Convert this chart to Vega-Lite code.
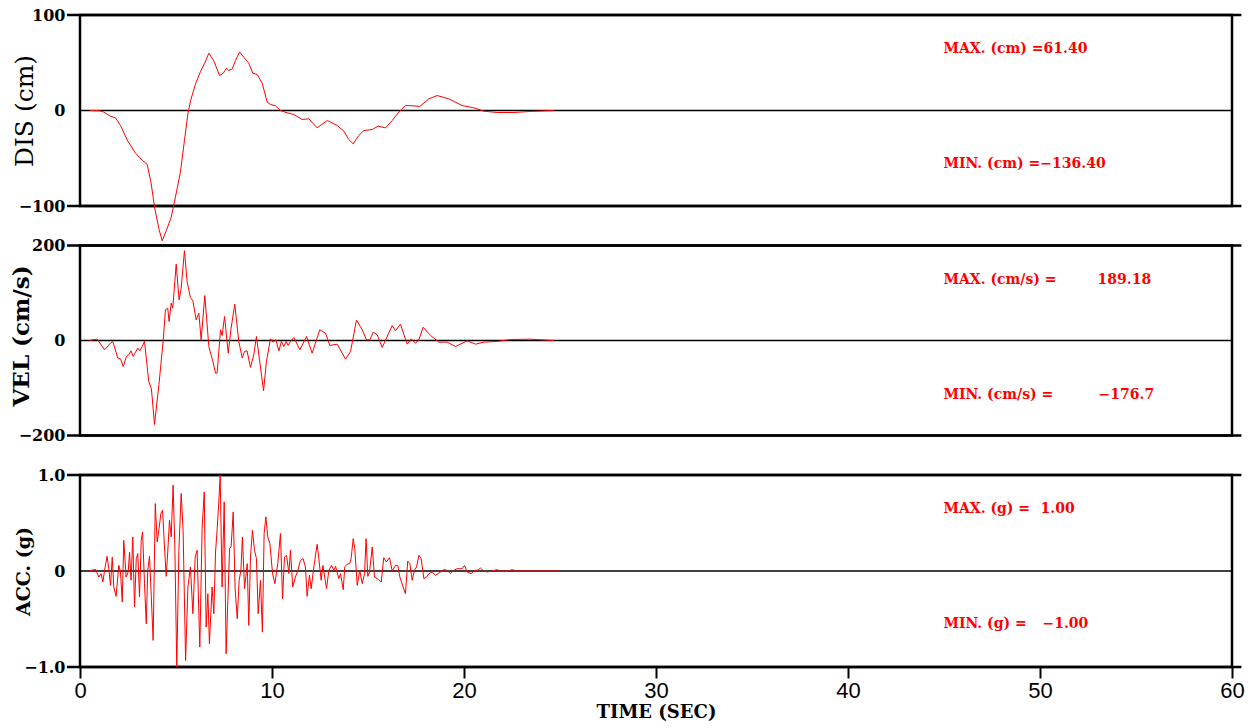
{
  "$schema": "https://vega.github.io/schema/vega-lite/v6.json",
  "background": "white",
  "padding": {"left": 8, "top": 5, "right": 5, "bottom": 5},
  "spacing": 39.5,
  "bounds": "flush",
  "config": {
    "view": {"stroke": "black", "strokeWidth": 2.5},
    "axis": {"grid": false, "domain": false, "labelColor": "black", "titleColor": "black", "tickColor": "black"},
    "text": {"font": "DejaVu Serif", "fontWeight": "bold", "fontSize": 14, "color": "#ff0000", "align": "left", "baseline": "middle"}
  },
  "datasets": {
    "dis": [
      {"t":0.5,"v":0},{"t":0.98,"v":0},{"t":1.24,"v":-1.7},{"t":1.59,"v":-6},{"t":1.85,"v":-7.7},{"t":2.11,"v":-15.7},{"t":2.46,"v":-31},{"t":2.89,"v":-44.7},{"t":3.24,"v":-52},{"t":3.5,"v":-56.5},{"t":3.71,"v":-76.8},{"t":3.88,"v":-101},{"t":4.11,"v":-124},{"t":4.28,"v":-136.4},{"t":4.5,"v":-125.6},{"t":4.75,"v":-111.7},{"t":4.97,"v":-90.8},{"t":5.23,"v":-64.6},{"t":5.44,"v":-31.4},{"t":5.62,"v":-3.5},{"t":5.76,"v":10.5},{"t":6.02,"v":28},{"t":6.28,"v":41},{"t":6.48,"v":49},{"t":6.71,"v":60},{"t":6.97,"v":52},{"t":7.27,"v":36.6},{"t":7.46,"v":39},{"t":7.63,"v":44.3},{"t":7.75,"v":41.9},{"t":7.93,"v":43.6},{"t":8.1,"v":52.4},{"t":8.31,"v":61.4},{"t":8.53,"v":55.8},{"t":8.79,"v":49.6},{"t":9.0,"v":39},{"t":9.23,"v":37.7},{"t":9.49,"v":28.6},{"t":9.75,"v":8.7},{"t":9.92,"v":6.3},{"t":10.18,"v":4.9},{"t":10.44,"v":0},{"t":10.79,"v":-2.4},{"t":11.14,"v":-4.2},{"t":11.57,"v":-9.4},{"t":11.92,"v":-8.7},{"t":12.35,"v":-18.2},{"t":12.88,"v":-10.5},{"t":13.4,"v":-15.7},{"t":13.74,"v":-21.6},{"t":14.0,"v":-30.4},{"t":14.23,"v":-34.9},{"t":14.52,"v":-26.2},{"t":14.78,"v":-21},{"t":15.22,"v":-19.9},{"t":15.53,"v":-16.4},{"t":15.91,"v":-18.2},{"t":16.26,"v":-10.5},{"t":16.6,"v":-1.7},{"t":16.95,"v":5.2},{"t":17.39,"v":4.9},{"t":17.7,"v":4.2},{"t":18.17,"v":12.2},{"t":18.6,"v":15.7},{"t":19.21,"v":12.2},{"t":19.9,"v":5.2},{"t":20.51,"v":2.8},{"t":21.03,"v":-0.7},{"t":21.73,"v":-2.1},{"t":22.6,"v":-2.1},{"t":23.46,"v":-1},{"t":24.68,"v":0}
    ],
    "vel": [
      {"t":0.46,"v":0},{"t":0.89,"v":2.8},{"t":1.28,"v":-19.6},{"t":1.59,"v":-5.6},{"t":1.71,"v":-2},{"t":1.97,"v":-37},{"t":2.11,"v":-38.6},{"t":2.25,"v":-54.7},{"t":2.42,"v":-33.7},{"t":2.54,"v":-30},{"t":2.66,"v":-21.8},{"t":2.77,"v":-33.7},{"t":2.89,"v":-24.6},{"t":3.01,"v":-16},{"t":3.12,"v":-21.8},{"t":3.24,"v":-12.6},{"t":3.36,"v":-2},{"t":3.58,"v":-86},{"t":3.72,"v":-101.8},{"t":3.88,"v":-176.7},{"t":4.11,"v":-93},{"t":4.33,"v":-2},{"t":4.45,"v":64.6},{"t":4.57,"v":68},{"t":4.64,"v":40},{"t":4.75,"v":78.6},{"t":4.83,"v":68},{"t":5.01,"v":160.7},{"t":5.16,"v":85.6},{"t":5.27,"v":110},{"t":5.44,"v":189.18},{"t":5.58,"v":124},{"t":5.75,"v":90.5},{"t":5.88,"v":83.5},{"t":6.05,"v":43.5},{"t":6.19,"v":57.5},{"t":6.31,"v":1.4},{"t":6.5,"v":94.7},{"t":6.71,"v":-12.6},{"t":6.92,"v":-44},{"t":7.06,"v":-68.8},{"t":7.14,"v":-68.8},{"t":7.32,"v":22.5},{"t":7.4,"v":10.5},{"t":7.53,"v":50.5},{"t":7.72,"v":-26.7},{"t":7.87,"v":26},{"t":8.06,"v":76.5},{"t":8.27,"v":-2},{"t":8.45,"v":-37},{"t":8.57,"v":-23},{"t":8.7,"v":-21.8},{"t":8.88,"v":-56.8},{"t":9.05,"v":-30},{"t":9.19,"v":8.4},{"t":9.56,"v":-106},{"t":9.71,"v":-44},{"t":9.92,"v":3.5},{"t":10.06,"v":-3.5},{"t":10.2,"v":1.4},{"t":10.36,"v":-21.8},{"t":10.49,"v":-2},{"t":10.62,"v":-12.6},{"t":10.74,"v":-2},{"t":10.84,"v":-10.5},{"t":10.96,"v":-2},{"t":11.14,"v":6.3},{"t":11.45,"v":-19.6},{"t":11.8,"v":8.4},{"t":12.09,"v":-26.7},{"t":12.49,"v":22.5},{"t":12.79,"v":15.4},{"t":13.01,"v":-10.5},{"t":13.4,"v":-7.7},{"t":13.83,"v":-39.3},{"t":14.09,"v":-23},{"t":14.4,"v":42.8},{"t":14.7,"v":22.5},{"t":14.92,"v":1.4},{"t":15.1,"v":1.4},{"t":15.27,"v":17.5},{"t":15.48,"v":12},{"t":15.74,"v":-14.7},{"t":16.26,"v":31.6},{"t":16.43,"v":20.4},{"t":16.69,"v":34.4},{"t":17.04,"v":-7.7},{"t":17.25,"v":3.5},{"t":17.47,"v":-5.6},{"t":17.65,"v":1.4},{"t":17.87,"v":28},{"t":18.26,"v":10.5},{"t":18.69,"v":-3.5},{"t":19.12,"v":-3.5},{"t":19.56,"v":-12.6},{"t":20.16,"v":-0.7},{"t":20.6,"v":-7.7},{"t":21.03,"v":-3.5},{"t":21.73,"v":-2},{"t":22.42,"v":2.1},{"t":23.46,"v":2.8},{"t":24.68,"v":0}
    ],
    "acc": [
      {"t":0.46,"v":0},{"t":0.81,"v":0.017},{"t":0.98,"v":-0.063},{"t":1.1,"v":-0.028},{"t":1.19,"v":-0.115},{"t":1.28,"v":0.007},{"t":1.41,"v":0.153},{"t":1.5,"v":0.024},{"t":1.59,"v":-0.15},{"t":1.68,"v":0.146},{"t":1.76,"v":-0.167},{"t":1.88,"v":-0.264},{"t":2.02,"v":0.059},{"t":2.11,"v":-0.01},{"t":2.2,"v":-0.323},{"t":2.28,"v":0.32},{"t":2.4,"v":-0.063},{"t":2.51,"v":-0.01},{"t":2.58,"v":0.198},{"t":2.66,"v":-0.097},{"t":2.75,"v":0.355},{"t":2.84,"v":-0.376},{"t":2.93,"v":0.129},{"t":3.01,"v":0.181},{"t":3.1,"v":-0.271},{"t":3.19,"v":0.32},{"t":3.26,"v":0.407},{"t":3.36,"v":-0.132},{"t":3.45,"v":-0.55},{"t":3.53,"v":0.007},{"t":3.62,"v":0.153},{"t":3.71,"v":-0.254},{"t":3.81,"v":-0.723},{"t":3.92,"v":0.703},{"t":4.02,"v":0.303},{"t":4.12,"v":0.442},{"t":4.21,"v":0.598},{"t":4.3,"v":0.633},{"t":4.4,"v":0.25},{"t":4.49,"v":-0.056},{"t":4.57,"v":0.198},{"t":4.66,"v":0.529},{"t":4.75,"v":0.355},{"t":4.85,"v":0.894},{"t":4.94,"v":0.25},{"t":5.04,"v":-1.0},{"t":5.15,"v":0.216},{"t":5.27,"v":0.807},{"t":5.37,"v":0.424},{"t":5.5,"v":-0.932},{"t":5.62,"v":-0.167},{"t":5.75,"v":0.042},{"t":5.88,"v":-0.445},{"t":6.0,"v":0.146},{"t":6.1,"v":0.216},{"t":6.24,"v":-0.793},{"t":6.36,"v":0.442},{"t":6.47,"v":0.824},{"t":6.57,"v":-0.584},{"t":6.66,"v":-0.237},{"t":6.74,"v":-0.758},{"t":6.88,"v":-0.167},{"t":6.97,"v":-0.445},{"t":7.06,"v":0.198},{"t":7.14,"v":0.424},{"t":7.23,"v":0.72},{"t":7.3,"v":1.0},{"t":7.4,"v":-0.167},{"t":7.51,"v":0.72},{"t":7.61,"v":-0.863},{"t":7.7,"v":-0.306},{"t":7.79,"v":0.233},{"t":7.87,"v":0.25},{"t":7.98,"v":0.616},{"t":8.08,"v":-0.184},{"t":8.19,"v":-0.497},{"t":8.29,"v":-0.097},{"t":8.38,"v":0.007},{"t":8.46,"v":0.355},{"t":8.57,"v":-0.184},{"t":8.71,"v":0.077},{"t":8.79,"v":-0.567},{"t":8.88,"v":0.146},{"t":8.98,"v":0.424},{"t":9.09,"v":0.216},{"t":9.19,"v":0.129},{"t":9.28,"v":-0.445},{"t":9.4,"v":-0.097},{"t":9.5,"v":-0.637},{"t":9.59,"v":0.39},{"t":9.68,"v":0.563},{"t":9.78,"v":0.355},{"t":9.89,"v":0.285},{"t":10.03,"v":-0.028},{"t":10.15,"v":-0.132},{"t":10.3,"v":0.077},{"t":10.44,"v":0.39},{"t":10.55,"v":-0.289},{"t":10.65,"v":0.146},{"t":10.76,"v":0.163},{"t":10.88,"v":-0.028},{"t":10.96,"v":0.216},{"t":11.08,"v":-0.167},{"t":11.22,"v":-0.063},{"t":11.35,"v":0.007},{"t":11.48,"v":0.111},{"t":11.62,"v":0.129},{"t":11.74,"v":0.042},{"t":11.83,"v":-0.264},{"t":11.95,"v":-0.045},{"t":12.04,"v":-0.184},{"t":12.18,"v":0.042},{"t":12.35,"v":0.278},{"t":12.44,"v":0.129},{"t":12.56,"v":-0.097},{"t":12.65,"v":0.059},{"t":12.84,"v":-0.184},{"t":12.96,"v":0.007},{"t":13.1,"v":0.059},{"t":13.22,"v":0.007},{"t":13.31,"v":0.049},{"t":13.48,"v":-0.08},{"t":13.57,"v":-0.028},{"t":13.71,"v":-0.195},{"t":13.79,"v":0.042},{"t":13.91,"v":0.07},{"t":14.05,"v":0.077},{"t":14.12,"v":0.129},{"t":14.23,"v":0.337},{"t":14.31,"v":0.233},{"t":14.44,"v":-0.15},{"t":14.57,"v":0.007},{"t":14.7,"v":-0.132},{"t":14.82,"v":-0.028},{"t":14.9,"v":0.337},{"t":14.99,"v":-0.056},{"t":15.08,"v":-0.01},{"t":15.22,"v":0.25},{"t":15.34,"v":-0.063},{"t":15.48,"v":-0.08},{"t":15.69,"v":-0.115},{"t":15.82,"v":0.139},{"t":15.96,"v":0.094},{"t":16.12,"v":0.139},{"t":16.26,"v":0},{"t":16.43,"v":0.059},{"t":16.55,"v":0.059},{"t":16.66,"v":-0.063},{"t":16.83,"v":-0.167},{"t":16.95,"v":-0.237},{"t":17.07,"v":0.104},{"t":17.18,"v":0.077},{"t":17.3,"v":-0.097},{"t":17.42,"v":0.007},{"t":17.53,"v":0.042},{"t":17.65,"v":0.163},{"t":17.77,"v":0.129},{"t":17.91,"v":-0.08},{"t":18.05,"v":-0.063},{"t":18.17,"v":-0.028},{"t":18.34,"v":-0.01},{"t":18.52,"v":-0.045},{"t":18.78,"v":-0.01},{"t":18.95,"v":0.014},{"t":19.12,"v":0.007},{"t":19.3,"v":-0.028},{"t":19.47,"v":0.007},{"t":19.64,"v":0.024},{"t":19.9,"v":0.024},{"t":20.03,"v":0.059},{"t":20.16,"v":-0.01},{"t":20.37,"v":-0.028},{"t":20.55,"v":0.007},{"t":20.69,"v":0.007},{"t":20.86,"v":0.031},{"t":21.03,"v":0},{"t":21.21,"v":-0.01},{"t":21.47,"v":0},{"t":21.73,"v":0.014},{"t":21.9,"v":0},{"t":22.25,"v":-0.003},{"t":22.51,"v":0.014},{"t":22.77,"v":0},{"t":24.16,"v":0},{"t":25.02,"v":0}
    ]
  },
  "vconcat": [
    {
      "width": 1152, "height": 191,
      "layer": [
        {"data": {"values": [{}]}, "mark": {"type": "rule", "color": "black", "strokeWidth": 1.5},
         "encoding": {"y": {"datum": 0, "type": "quantitative"}}},
        {"data": {"values": [{}]}, "mark": {"type": "rule", "color": "black", "strokeWidth": 2.5},
         "encoding": {"x": {"datum": -0.68, "type": "quantitative", "axis": null}, "x2": {"datum": 60.49}, "y": {"datum": 100, "type": "quantitative"}}},
        {"data": {"values": [{}]}, "mark": {"type": "rule", "color": "black", "strokeWidth": 2.5},
         "encoding": {"x": {"datum": -0.68, "type": "quantitative", "axis": null}, "x2": {"datum": 60.49}, "y": {"datum": -100, "type": "quantitative"}}},
        {"data": {"name": "dis"}, "mark": {"type": "line", "color": "#ff0000", "strokeWidth": 1},
         "encoding": {
           "x": {"field": "t", "type": "quantitative", "scale": {"domain": [0, 60], "nice": false}, "axis": null},
           "y": {"field": "v", "type": "quantitative", "scale": {"domain": [-100, 100], "nice": false},
                 "axis": {"values": [-100, 0, 100], "ticks": false, "tickSize": 0, "labelPadding": 15, "labelFont": "DejaVu Serif", "labelFontWeight": "bold", "labelFontSize": 16,
                          "title": "DIS (cm)", "titleFont": "DejaVu Serif", "titleFontWeight": "normal", "titleFontSize": 25, "titleX": -43, "titleY": 95.5, "titleBaseline": "bottom", "titleAngle": 270}}}},
        {"data": {"values": [{}]}, "mark": {"type": "text", "text": "MAX. (cm) =61.40"}, "encoding": {"x": {"datum": 44.97, "type": "quantitative", "axis": null}, "y": {"datum": 64.9, "type": "quantitative"}}},
        {"data": {"values": [{}]}, "mark": {"type": "text", "text": "MIN. (cm) =−136.40"}, "encoding": {"x": {"datum": 44.97, "type": "quantitative", "axis": null}, "y": {"datum": -55.5, "type": "quantitative"}}}
      ]
    },
    {
      "width": 1152, "height": 190,
      "layer": [
        {"data": {"values": [{}]}, "mark": {"type": "rule", "color": "black", "strokeWidth": 1.5},
         "encoding": {"y": {"datum": 0, "type": "quantitative"}}},
        {"data": {"values": [{}]}, "mark": {"type": "rule", "color": "black", "strokeWidth": 2.5},
         "encoding": {"x": {"datum": -0.68, "type": "quantitative", "axis": null}, "x2": {"datum": 60.49}, "y": {"datum": 200, "type": "quantitative"}}},
        {"data": {"values": [{}]}, "mark": {"type": "rule", "color": "black", "strokeWidth": 2.5},
         "encoding": {"x": {"datum": -0.68, "type": "quantitative", "axis": null}, "x2": {"datum": 60.49}, "y": {"datum": -200, "type": "quantitative"}}},
        {"data": {"name": "vel"}, "mark": {"type": "line", "color": "#ff0000", "strokeWidth": 1},
         "encoding": {
           "x": {"field": "t", "type": "quantitative", "scale": {"domain": [0, 60], "nice": false}, "axis": null},
           "y": {"field": "v", "type": "quantitative", "scale": {"domain": [-200, 200], "nice": false},
                 "axis": {"values": [-200, 0, 200], "ticks": false, "tickSize": 0, "labelPadding": 15, "labelFont": "DejaVu Serif", "labelFontWeight": "bold", "labelFontSize": 16,
                          "title": "VEL (cm/s)", "titleFont": "DejaVu Serif", "titleFontWeight": "bold", "titleFontSize": 23, "titleX": -47, "titleY": 90, "titleBaseline": "bottom", "titleAngle": 270}}}},
        {"data": {"values": [{}]}, "mark": {"type": "text", "text": "MAX. (cm/s) ="}, "encoding": {"x": {"datum": 44.97, "type": "quantitative", "axis": null}, "y": {"datum": 128.4, "type": "quantitative"}}},
        {"data": {"values": [{}]}, "mark": {"type": "text", "text": "189.18"}, "encoding": {"x": {"datum": 53.0, "type": "quantitative", "axis": null}, "y": {"datum": 128.4, "type": "quantitative"}}},
        {"data": {"values": [{}]}, "mark": {"type": "text", "text": "MIN. (cm/s) ="}, "encoding": {"x": {"datum": 44.97, "type": "quantitative", "axis": null}, "y": {"datum": -113.7, "type": "quantitative"}}},
        {"data": {"values": [{}]}, "mark": {"type": "text", "text": "−176.7"}, "encoding": {"x": {"datum": 53.05, "type": "quantitative", "axis": null}, "y": {"datum": -113.7, "type": "quantitative"}}}
      ]
    },
    {
      "width": 1152, "height": 192,
      "layer": [
        {"data": {"values": [{}]}, "mark": {"type": "rule", "color": "black", "strokeWidth": 1.5},
         "encoding": {"y": {"datum": 0, "type": "quantitative"}}},
        {"data": {"values": [{}]}, "mark": {"type": "rule", "color": "black", "strokeWidth": 2.5},
         "encoding": {"x": {"datum": -0.68, "type": "quantitative"}, "x2": {"datum": 60.49}, "y": {"datum": 1, "type": "quantitative"}}},
        {"data": {"values": [{}]}, "mark": {"type": "rule", "color": "black", "strokeWidth": 2.5},
         "encoding": {"x": {"datum": -0.68, "type": "quantitative"}, "x2": {"datum": 60.49}, "y": {"datum": -1, "type": "quantitative"}}},
        {"data": {"name": "acc"}, "mark": {"type": "line", "color": "#ff0000", "strokeWidth": 1},
         "encoding": {
           "x": {"field": "t", "type": "quantitative", "scale": {"domain": [0, 60], "nice": false},
                 "axis": {"values": [0, 10, 20, 30, 40, 50, 60], "ticks": true, "tickSize": 11, "tickWidth": 2, "labelFlush": false, "labelPadding": 2, "labelFont": "Liberation Sans", "labelFontSize": 22, "labelFontWeight": "normal",
                          "title": "TIME (SEC)", "titleFont": "DejaVu Serif", "titleFontWeight": "bold", "titleFontSize": 18, "titlePadding": 2}},
           "y": {"field": "v", "type": "quantitative", "scale": {"domain": [-1, 1], "nice": false},
                 "axis": {"values": [-1, 0, 1], "ticks": false, "tickSize": 0, "labelPadding": 15, "labelFont": "DejaVu Serif", "labelFontWeight": "bold", "labelFontSize": 16,
                          "labelExpr": "datum.value == 0 ? '0' : format(datum.value, '.1f')",
                          "title": "ACC. (g)", "titleFont": "DejaVu Serif", "titleFontWeight": "bold", "titleFontSize": 19, "titleX": -47, "titleY": 96, "titleBaseline": "bottom", "titleAngle": 270}}}},
        {"data": {"values": [{}]}, "mark": {"type": "text", "text": "MAX. (g) ="}, "encoding": {"x": {"datum": 44.97, "type": "quantitative"}, "y": {"datum": 0.645, "type": "quantitative"}}},
        {"data": {"values": [{}]}, "mark": {"type": "text", "text": "1.00"}, "encoding": {"x": {"datum": 50.03, "type": "quantitative"}, "y": {"datum": 0.645, "type": "quantitative"}}},
        {"data": {"values": [{}]}, "mark": {"type": "text", "text": "MIN. (g) ="}, "encoding": {"x": {"datum": 44.97, "type": "quantitative"}, "y": {"datum": -0.555, "type": "quantitative"}}},
        {"data": {"values": [{}]}, "mark": {"type": "text", "text": "−1.00"}, "encoding": {"x": {"datum": 50.13, "type": "quantitative"}, "y": {"datum": -0.555, "type": "quantitative"}}}
      ]
    }
  ]
}
